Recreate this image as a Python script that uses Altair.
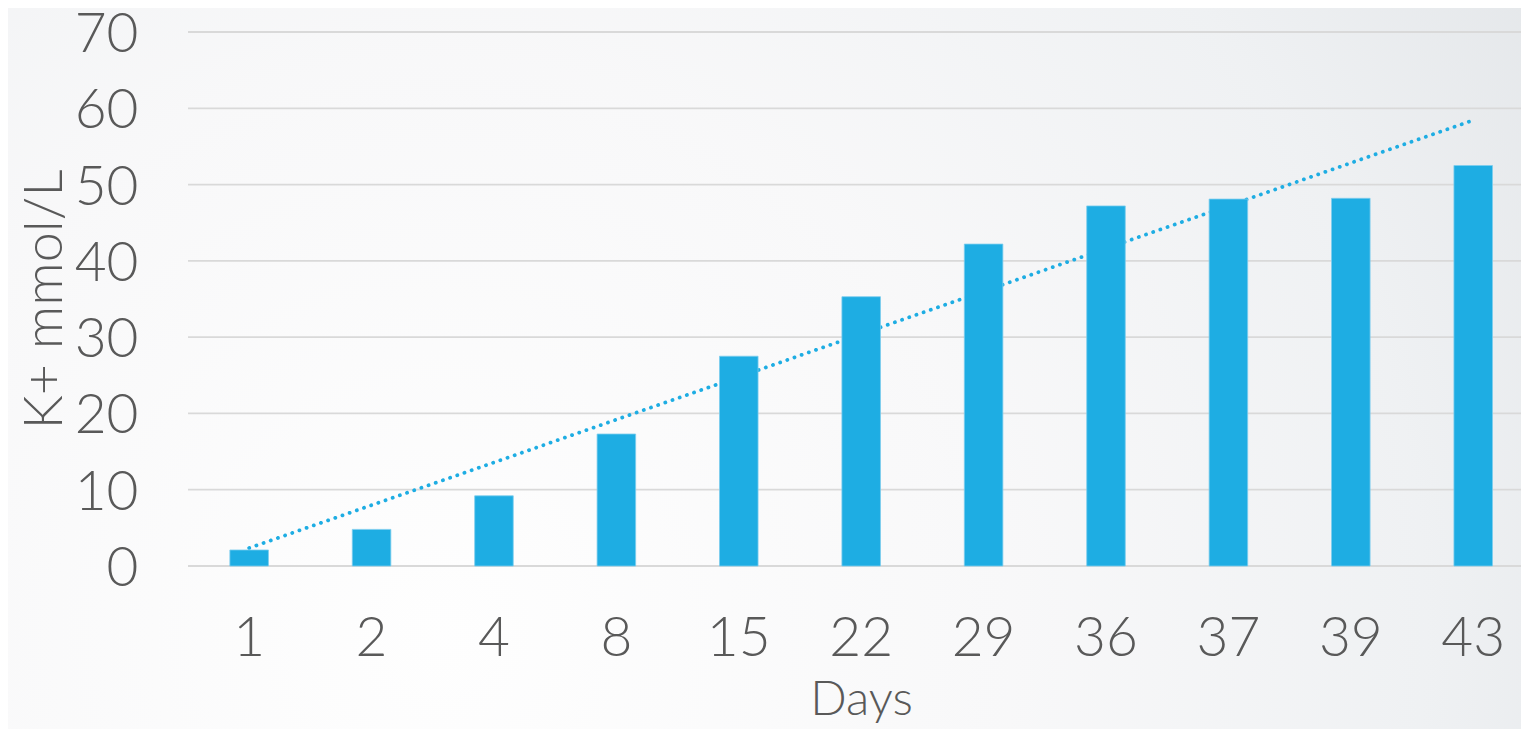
import altair as alt
import numpy as np
import pandas as pd

days = ["1", "2", "4", "8", "15", "22", "29", "36", "37", "39", "43"]
k_values = [2.1, 4.8, 9.2, 17.3, 27.5, 35.3, 42.2, 47.2, 48.1, 48.2, 52.5]
y_ticks = [0, 10, 20, 30, 40, 50, 60, 70]

FONT = "Lato"
TEXT = "#595959"
BAR = "#1EADE3"

idx = np.arange(1, len(days) + 1)
slope, intercept = np.polyfit(idx, k_values, 1)
trend = list(slope * idx + intercept)

df = pd.DataFrame({"day": days, "k": k_values, "trend": trend})
grid_df = pd.DataFrame({"v": y_ticks})

W, H = 1333, 534

x_scale = alt.Scale(domain=days, paddingInner=0.685, paddingOuter=0.2875, align=0.595)
y_scale = alt.Scale(domain=[0, 70], nice=False)

x_axis = alt.Axis(
    title="Days", labelAngle=0, labelFont=FONT, labelFontSize=55, labelFontWeight=300,
    labelColor=TEXT, labelPadding=89, labelBaseline="alphabetic", ticks=False, domain=False,
    grid=False, titleFont=FONT, titleFontSize=48, titleColor=TEXT, titleFontWeight=300,
    titleX=673, titleY=148, titleAlign="center", titleBaseline="alphabetic", zindex=1,
)
y_axis = alt.Axis(
    title="K+ mmol/L", values=y_ticks, labelFont=FONT, labelFontSize=55, labelFontWeight=300,
    labelColor=TEXT, labelPadding=50, labelBaseline="alphabetic", labelOffset=19.5,
    ticks=False, domain=False, grid=False,
    titleFont=FONT, titleFontSize=54, titleColor=TEXT, titleFontWeight=300,
    titleAngle=270, titleX=-127, titleY=267, titleAlign="center", titleBaseline="alphabetic",
    zindex=1,
)

gradient = {
    "gradient": "radial",
    "x1": 0.35, "y1": 0.62, "r1": 0,
    "x2": 0.35, "y2": 0.62, "r2": 0.75,
    "stops": [
        {"offset": 0, "color": "#fefefe"},
        {"offset": 0.35, "color": "#f8f8f9"},
        {"offset": 0.6, "color": "#eff1f3"},
        {"offset": 0.82, "color": "#e2e5e8"},
        {"offset": 1, "color": "#dcdfe3"},
    ],
}

bg = alt.Chart(alt.Data(values=[{"a": 1}])).mark_rect(fill=gradient, strokeWidth=0).encode(
    x=alt.value(-180), x2=alt.value(W + 8), y=alt.value(-753), y2=alt.value(1434)
)

grid = alt.Chart(grid_df).mark_rule(color="#d9d9d9", strokeWidth=1.8).encode(
    y=alt.Y("v:Q", scale=y_scale, axis=y_axis),
    x=alt.value(0), x2=alt.value(W),
)

base = alt.Chart(df)

line = base.mark_line(
    color=BAR, strokeWidth=3.8, strokeDash=[0.1, 7.5], strokeCap="round"
).encode(
    x=alt.X("day:N", sort=None, scale=x_scale, axis=x_axis),
    y=alt.Y("trend:Q", scale=y_scale, axis=y_axis),
)

bars = base.mark_bar(color=BAR, stroke="#7ccdee", strokeWidth=0.8).encode(
    x=alt.X("day:N", sort=None, scale=x_scale, axis=x_axis),
    y=alt.Y("k:Q", scale=y_scale, axis=y_axis),
)

chart = alt.layer(bg, grid, line, bars).properties(
    width=W, height=H,
    autosize=alt.AutoSizeParams(type="none"),
    padding={"left": 180, "top": 24, "right": 0, "bottom": 163},
    background="#f4f5f6",
).configure_view(stroke=None, strokeWidth=0)

chart.save("out.html", embed_options={"renderer": "svg", "actions": False})
